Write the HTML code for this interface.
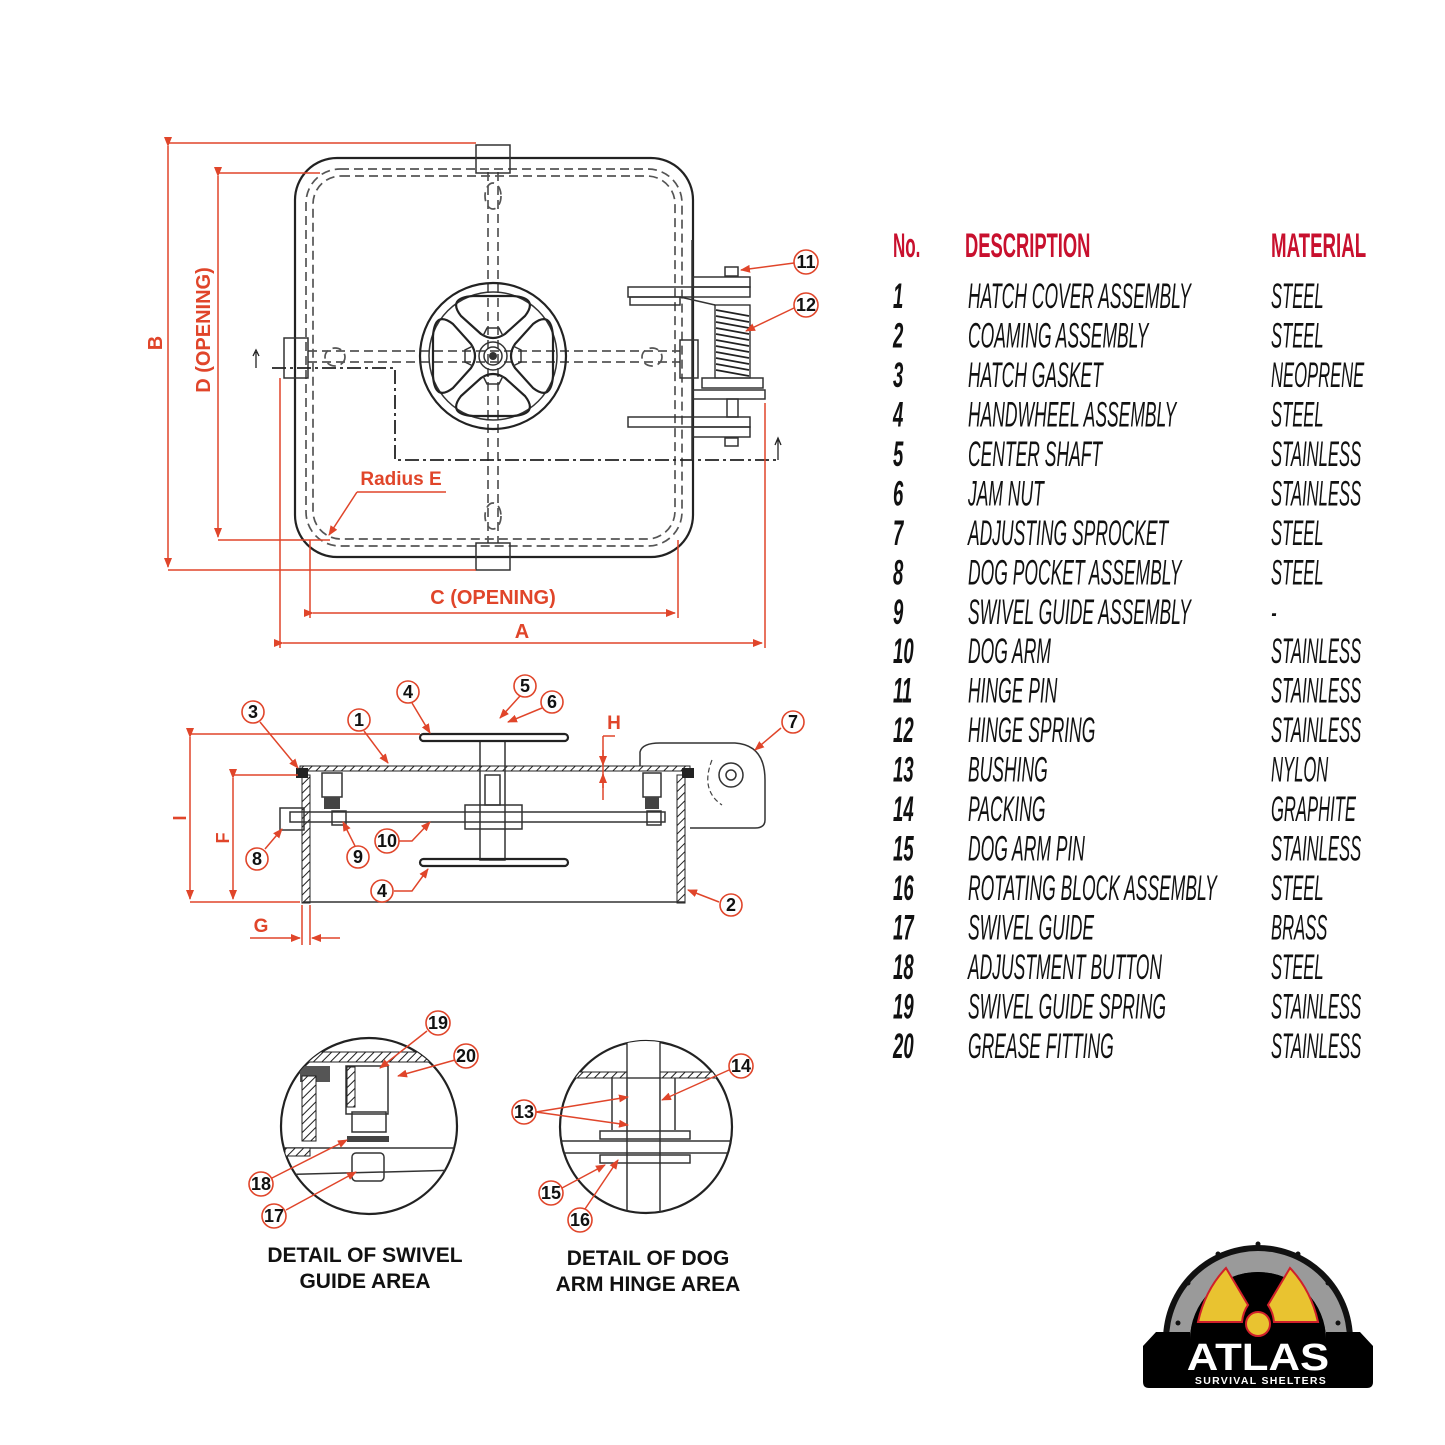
<!DOCTYPE html>
<html><head><meta charset="utf-8"><style>
html,body{margin:0;padding:0;background:#fff}
svg{display:block}
.k{fill:none;stroke:#222;stroke-width:2.2}
.kt{fill:none;stroke:#333;stroke-width:1.5}
.d{fill:none;stroke:#555;stroke-width:1.7;stroke-dasharray:9 5}
.r{fill:none;stroke:#e0452a;stroke-width:1.5}
.rt{font-family:"Liberation Sans",sans-serif;font-weight:bold;fill:#e0452a}
.co{fill:#fff;stroke:#e0452a;stroke-width:1.6}
.cn{font-family:"Liberation Sans",sans-serif;font-weight:bold;font-size:18px;fill:#111;text-anchor:middle}
.tb{font-family:"Liberation Sans",sans-serif;font-size:35px;font-style:italic;fill:#111}
.tn{font-family:"Liberation Sans",sans-serif;font-size:35px;font-style:italic;font-weight:bold;fill:#111}
.th{font-family:"Liberation Sans",sans-serif;font-size:34px;font-weight:bold;fill:#c8102e}
.cap{font-family:"Liberation Sans",sans-serif;font-weight:bold;font-size:21px;fill:#111;text-anchor:middle}
</style></head><body>
<svg width="1445" height="1445" viewBox="0 0 1445 1445" xmlns="http://www.w3.org/2000/svg">
<defs>
<marker id="ar" markerWidth="10" markerHeight="8" refX="9" refY="4" orient="auto" markerUnits="userSpaceOnUse"><path d="M0,0 L10,4 L0,8 Z" fill="#e0452a"/></marker>
<pattern id="hat" width="6" height="6" patternUnits="userSpaceOnUse" patternTransform="rotate(45)"><rect width="6" height="6" fill="#fff"/><line x1="0" y1="0" x2="0" y2="6" stroke="#222" stroke-width="2"/></pattern>
</defs>

<!-- ===== TOP VIEW ===== -->
<rect x="295" y="158" width="398" height="399" rx="42" class="k"/>
<rect x="306" y="169" width="376" height="377" rx="34" class="d"/>
<rect x="313" y="176" width="362" height="363" rx="28" class="d"/>
<line x1="488" y1="172" x2="488" y2="543" class="d"/>
<line x1="498" y1="172" x2="498" y2="543" class="d"/>
<line x1="308" y1="351" x2="680" y2="351" class="d"/>
<line x1="308" y1="362" x2="680" y2="362" class="d"/>
<ellipse cx="493" cy="196" rx="8" ry="13" class="d" stroke-dasharray="5 3"/>
<ellipse cx="493" cy="516" rx="8" ry="13" class="d" stroke-dasharray="5 3"/>
<ellipse cx="335" cy="357" rx="10" ry="9" class="d" stroke-dasharray="5 3"/>
<ellipse cx="652" cy="357" rx="10" ry="9" class="d" stroke-dasharray="5 3"/>
<rect x="476" y="145" width="34" height="28" class="kt"/>
<rect x="476" y="543" width="34" height="27" class="kt"/>
<rect x="284" y="338" width="24" height="40" class="kt"/>
<rect x="680" y="340" width="18" height="38" class="kt"/>
<g transform="translate(493,356)">
<circle r="73" class="k"/>
<circle r="64" class="kt"/>
<circle r="14" class="kt"/>
<circle r="9" class="kt"/>
<circle r="4" fill="#333"/>
<g id="pt"><path d="M-12,-22 L-32,-40 Q-46,-58 -20,-60 L20,-60 Q46,-58 32,-40 L12,-22 Q0,-14 -12,-22 Z" class="k"/><path d="M-10,-20 L-6,-28 L6,-28 L10,-20" class="kt"/></g>
<use href="#pt" transform="rotate(90)"/><use href="#pt" transform="rotate(180)"/><use href="#pt" transform="rotate(270)"/>
</g>
<path d="M272,368 L395,368 L395,460 L778,460" fill="none" stroke="#222" stroke-width="1.8" stroke-dasharray="14 4 3 4"/>
<path d="M256,368 L256,352 M253,356 L256,350 L259,356" fill="none" stroke="#222" stroke-width="1.3"/>
<path d="M778,460 L778,440 M775,445 L778,438 L781,445" fill="none" stroke="#222" stroke-width="1.3"/>
<line x1="692" y1="240" x2="692" y2="460" class="kt"/>
<rect x="725" y="267" width="13" height="9" class="kt"/>
<rect x="693" y="277" width="57" height="10" class="kt"/>
<rect x="628" y="287" width="122" height="10" class="kt"/>
<rect x="630" y="297" width="50" height="8" class="kt"/>
<path d="M680,297 L715,305" class="kt"/>
<rect x="715" y="305" width="35" height="73" fill="#fff" stroke="#222" stroke-width="1.3"/>
<g stroke="#222" stroke-width="1.8">
<line x1="716" y1="310" x2="749" y2="316"/><line x1="716" y1="316" x2="749" y2="322"/><line x1="716" y1="322" x2="749" y2="328"/><line x1="716" y1="328" x2="749" y2="334"/><line x1="716" y1="334" x2="749" y2="340"/><line x1="716" y1="340" x2="749" y2="346"/><line x1="716" y1="346" x2="749" y2="352"/><line x1="716" y1="352" x2="749" y2="358"/><line x1="716" y1="358" x2="749" y2="364"/><line x1="716" y1="364" x2="749" y2="370"/><line x1="716" y1="370" x2="749" y2="376"/>
</g>
<rect x="702" y="378" width="61" height="10" class="kt"/>
<rect x="693" y="390" width="72" height="9" class="kt"/>
<rect x="727" y="399" width="11" height="18" class="kt"/>
<rect x="628" y="417" width="122" height="10" class="kt"/>
<rect x="693" y="427" width="57" height="10" class="kt"/>
<rect x="725" y="438" width="13" height="8" class="kt"/>
<line x1="168" y1="143" x2="476" y2="143" class="r"/>
<line x1="168" y1="570" x2="476" y2="570" class="r"/>
<line x1="168" y1="146" x2="168" y2="567" class="r" marker-start="url(#ar)" marker-end="url(#ar)"/>
<line x1="218" y1="173" x2="320" y2="173" class="r"/>
<line x1="218" y1="540" x2="330" y2="540" class="r"/>
<line x1="218" y1="176" x2="218" y2="537" class="r" marker-start="url(#ar)" marker-end="url(#ar)"/>
<text class="rt" font-size="20" transform="translate(162,343) rotate(-90)" text-anchor="middle">B</text>
<text class="rt" font-size="20" transform="translate(210,330) rotate(-90)" text-anchor="middle">D (OPENING)</text>
<line x1="310" y1="540" x2="310" y2="618" class="r"/>
<line x1="678" y1="540" x2="678" y2="618" class="r"/>
<line x1="313" y1="613" x2="675" y2="613" class="r" marker-start="url(#ar)" marker-end="url(#ar)"/>
<text class="rt" font-size="20" x="493" y="604" text-anchor="middle">C (OPENING)</text>
<line x1="280" y1="378" x2="280" y2="648" class="r"/>
<line x1="765" y1="403" x2="765" y2="648" class="r"/>
<line x1="283" y1="643" x2="762" y2="643" class="r" marker-start="url(#ar)" marker-end="url(#ar)"/>
<text class="rt" font-size="20" x="522" y="638" text-anchor="middle">A</text>
<text class="rt" font-size="19" x="401" y="485" text-anchor="middle">Radius E</text>
<line x1="357" y1="492" x2="446" y2="492" class="r"/>
<line x1="357" y1="492" x2="329" y2="535" class="r" marker-end="url(#ar)"/>
<line x1="794" y1="263" x2="741" y2="270" class="r" marker-end="url(#ar)"/>
<line x1="794" y1="308" x2="746" y2="331" class="r" marker-end="url(#ar)"/>
<circle cx="806" cy="262" r="12" class="co"/><text class="cn" x="806" y="268">11</text>
<circle cx="806" cy="305" r="12" class="co"/><text class="cn" x="806" y="311">12</text>

<!-- ===== SECTION VIEW ===== -->
<rect x="300" y="766" width="390" height="5" fill="url(#hat)" stroke="#222" stroke-width="1"/>
<rect x="302" y="775" width="8" height="128" fill="url(#hat)" stroke="#222" stroke-width="1"/>
<rect x="677" y="775" width="8" height="128" fill="url(#hat)" stroke="#222" stroke-width="1"/>
<line x1="303" y1="902" x2="685" y2="902" class="kt"/>
<rect x="296" y="768" width="12" height="10" fill="#222"/>
<rect x="682" y="768" width="12" height="10" fill="#222"/>
<rect x="280" y="808" width="24" height="22" class="kt"/>
<rect x="322" y="773" width="20" height="24" class="kt"/>
<rect x="324" y="797" width="16" height="12" fill="#444"/>
<rect x="643" y="773" width="18" height="24" class="kt"/>
<rect x="645" y="797" width="14" height="12" fill="#444"/>
<rect x="290" y="812" width="375" height="10" class="kt"/>
<rect x="332" y="811" width="14" height="14" class="kt"/>
<rect x="647" y="811" width="14" height="14" class="kt"/>
<rect x="480" y="741" width="25" height="119" class="kt"/>
<rect x="485" y="775" width="15" height="30" class="kt"/>
<rect x="465" y="805" width="57" height="24" class="kt"/>
<rect x="420" y="734" width="148" height="7" rx="3.5" class="k"/>
<rect x="420" y="859" width="148" height="7" rx="3.5" class="k"/>
<path d="M640,766 L640,752 Q642,743 660,743 L735,743 Q765,745 765,780 L765,820 Q765,828 755,828 L690,828" class="kt"/>
<circle cx="731" cy="775" r="12" class="kt"/><circle cx="731" cy="775" r="5" class="kt"/>
<path d="M712,760 Q700,790 722,805" fill="none" stroke="#444" stroke-width="1.2" stroke-dasharray="5 3"/>
<line x1="190" y1="734" x2="420" y2="734" class="r"/>
<line x1="190" y1="737" x2="190" y2="899" class="r" marker-start="url(#ar)" marker-end="url(#ar)"/>
<line x1="190" y1="902" x2="300" y2="902" class="r"/>
<line x1="233" y1="775" x2="298" y2="775" class="r"/>
<line x1="233" y1="778" x2="233" y2="899" class="r" marker-start="url(#ar)" marker-end="url(#ar)"/>
<text class="rt" font-size="18" transform="translate(186,818) rotate(-90)" text-anchor="middle">I</text>
<text class="rt" font-size="18" transform="translate(229,838) rotate(-90)" text-anchor="middle">F</text>
<line x1="603" y1="736" x2="615" y2="736" class="r"/>
<line x1="603" y1="736" x2="603" y2="800" class="r"/>
<line x1="603" y1="750" x2="603" y2="765" class="r" marker-end="url(#ar)"/>
<line x1="603" y1="788" x2="603" y2="774" class="r" marker-end="url(#ar)"/>
<text class="rt" font-size="19" x="614" y="729" text-anchor="middle">H</text>
<line x1="302" y1="905" x2="302" y2="945" class="r"/>
<line x1="310" y1="905" x2="310" y2="945" class="r"/>
<line x1="250" y1="938" x2="300" y2="938" class="r" marker-end="url(#ar)"/>
<line x1="340" y1="938" x2="312" y2="938" class="r" marker-end="url(#ar)"/>
<text class="rt" font-size="19" x="261" y="932" text-anchor="middle">G</text>
<g>
<line x1="260" y1="722" x2="298" y2="768" class="r" marker-end="url(#ar)"/>
<line x1="364" y1="731" x2="388" y2="763" class="r" marker-end="url(#ar)"/>
<line x1="412" y1="703" x2="430" y2="733" class="r" marker-end="url(#ar)"/>
<line x1="520" y1="696" x2="500" y2="718" class="r" marker-end="url(#ar)"/>
<line x1="542" y1="708" x2="508" y2="722" class="r" marker-end="url(#ar)"/>
<line x1="781" y1="728" x2="755" y2="750" class="r" marker-end="url(#ar)"/>
<line x1="265" y1="849" x2="282" y2="829" class="r" marker-end="url(#ar)"/>
<line x1="355" y1="846" x2="343" y2="822" class="r" marker-end="url(#ar)"/>
<path d="M399,841 L412,841 L430,822" class="r" marker-end="url(#ar)"/>
<path d="M394,891 L412,891 L428,869" class="r" marker-end="url(#ar)"/>
<line x1="719" y1="902" x2="688" y2="890" class="r" marker-end="url(#ar)"/>
<circle cx="253" cy="712" r="11" class="co"/><text class="cn" x="253" y="718">3</text>
<circle cx="359" cy="720" r="11" class="co"/><text class="cn" x="359" y="726">1</text>
<circle cx="408" cy="692" r="11" class="co"/><text class="cn" x="408" y="698">4</text>
<circle cx="525" cy="686" r="11" class="co"/><text class="cn" x="525" y="692">5</text>
<circle cx="552" cy="702" r="11" class="co"/><text class="cn" x="552" y="708">6</text>
<circle cx="793" cy="722" r="11" class="co"/><text class="cn" x="793" y="728">7</text>
<circle cx="257" cy="859" r="11" class="co"/><text class="cn" x="257" y="865">8</text>
<circle cx="358" cy="857" r="11" class="co"/><text class="cn" x="358" y="863">9</text>
<circle cx="387" cy="841" r="12" class="co"/><text class="cn" x="387" y="847">10</text>
<circle cx="382" cy="891" r="11" class="co"/><text class="cn" x="382" y="897">4</text>
<circle cx="731" cy="905" r="11" class="co"/><text class="cn" x="731" y="911">2</text>
</g>

<!-- ===== DETAILS ===== -->
<defs><clipPath id="c1"><circle cx="369" cy="1126" r="88"/></clipPath><clipPath id="c2"><circle cx="646" cy="1127" r="86"/></clipPath></defs>
<circle cx="369" cy="1126" r="88" class="k"/>
<g clip-path="url(#c1)">
<rect x="270" y="1052" width="200" height="10" fill="url(#hat)" stroke="#222"/>
<rect x="300" y="1066" width="30" height="16" fill="#555"/>
<rect x="302" y="1076" width="14" height="65" fill="url(#hat)" stroke="#222"/>
<rect x="346" y="1066" width="42" height="48" class="kt"/>
<rect x="347" y="1067" width="8" height="40" fill="url(#hat)" stroke="#222"/>
<rect x="352" y="1112" width="34" height="20" class="kt"/>
<rect x="347" y="1136" width="42" height="6" fill="#444"/>
<rect x="352" y="1153" width="32" height="28" rx="4" class="kt"/>
<line x1="270" y1="1148" x2="460" y2="1148" class="kt"/>
<line x1="270" y1="1175" x2="460" y2="1170" class="kt"/>
<rect x="285" y="1148" width="25" height="8" fill="url(#hat)" stroke="#222"/>
</g>
<circle cx="646" cy="1127" r="86" class="k"/>
<g clip-path="url(#c2)">
<rect x="550" y="1072" width="200" height="6" fill="url(#hat)" stroke="#222"/>
<rect x="627" y="1030" width="33" height="48" fill="#fff" stroke="#222" stroke-width="1.3"/>
<line x1="627" y1="1078" x2="627" y2="1230" class="kt"/>
<line x1="660" y1="1078" x2="660" y2="1230" class="kt"/>
<line x1="612" y1="1078" x2="612" y2="1130" class="kt"/>
<line x1="675" y1="1078" x2="675" y2="1130" class="kt"/>
<rect x="600" y="1131" width="90" height="8" class="kt"/>
<rect x="600" y="1155" width="90" height="8" class="kt"/>
<line x1="550" y1="1141" x2="750" y2="1141" class="kt"/>
<line x1="550" y1="1153" x2="750" y2="1153" class="kt"/>
</g>
<g>
<line x1="427" y1="1031" x2="380" y2="1068" class="r" marker-end="url(#ar)"/>
<line x1="455" y1="1060" x2="398" y2="1076" class="r" marker-end="url(#ar)"/>
<line x1="272" y1="1178" x2="347" y2="1140" class="r" marker-end="url(#ar)"/>
<line x1="286" y1="1210" x2="356" y2="1172" class="r" marker-end="url(#ar)"/>
<line x1="729" y1="1070" x2="662" y2="1100" class="r" marker-end="url(#ar)"/>
<line x1="536" y1="1112" x2="628" y2="1097" class="r" marker-end="url(#ar)"/>
<line x1="536" y1="1112" x2="628" y2="1125" class="r" marker-end="url(#ar)"/>
<line x1="562" y1="1188" x2="605" y2="1165" class="r" marker-end="url(#ar)"/>
<line x1="585" y1="1209" x2="618" y2="1160" class="r" marker-end="url(#ar)"/>
<circle cx="438" cy="1023" r="12" class="co"/><text class="cn" x="438" y="1029">19</text>
<circle cx="466" cy="1056" r="12" class="co"/><text class="cn" x="466" y="1062">20</text>
<circle cx="261" cy="1184" r="12" class="co"/><text class="cn" x="261" y="1190">18</text>
<circle cx="274" cy="1216" r="12" class="co"/><text class="cn" x="274" y="1222">17</text>
<circle cx="741" cy="1066" r="12" class="co"/><text class="cn" x="741" y="1072">14</text>
<circle cx="524" cy="1112" r="12" class="co"/><text class="cn" x="524" y="1118">13</text>
<circle cx="551" cy="1193" r="12" class="co"/><text class="cn" x="551" y="1199">15</text>
<circle cx="580" cy="1220" r="12" class="co"/><text class="cn" x="580" y="1226">16</text>
</g>
<text class="cap" x="365" y="1262">DETAIL OF SWIVEL</text>
<text class="cap" x="365" y="1288">GUIDE AREA</text>
<text class="cap" x="648" y="1265">DETAIL OF DOG</text>
<text class="cap" x="648" y="1291">ARM HINGE AREA</text>

<!-- ===== TABLE ===== -->
<text class="th" transform="translate(893,257) scale(0.5,1)">No.</text>
<text class="th" transform="translate(965,257) scale(0.54,1)">DESCRIPTION</text>
<text class="th" transform="translate(1271,257) scale(0.55,1)">MATERIAL</text>
<g>
<text class="tn" transform="translate(893,308) scale(0.53,1)">1</text><text class="tb" transform="translate(968,308) scale(0.5,1)">HATCH COVER ASSEMBLY</text><text class="tb" transform="translate(1271,308) scale(0.475,1)">STEEL</text>
<text class="tn" transform="translate(893,347.5) scale(0.53,1)">2</text><text class="tb" transform="translate(968,347.5) scale(0.5,1)">COAMING ASSEMBLY</text><text class="tb" transform="translate(1271,347.5) scale(0.475,1)">STEEL</text>
<text class="tn" transform="translate(893,387) scale(0.53,1)">3</text><text class="tb" transform="translate(968,387) scale(0.5,1)">HATCH GASKET</text><text class="tb" transform="translate(1271,387) scale(0.475,1)">NEOPRENE</text>
<text class="tn" transform="translate(893,426.4) scale(0.53,1)">4</text><text class="tb" transform="translate(968,426.4) scale(0.5,1)">HANDWHEEL ASSEMBLY</text><text class="tb" transform="translate(1271,426.4) scale(0.475,1)">STEEL</text>
<text class="tn" transform="translate(893,465.9) scale(0.53,1)">5</text><text class="tb" transform="translate(968,465.9) scale(0.5,1)">CENTER SHAFT</text><text class="tb" transform="translate(1271,465.9) scale(0.475,1)">STAINLESS</text>
<text class="tn" transform="translate(893,505.3) scale(0.53,1)">6</text><text class="tb" transform="translate(968,505.3) scale(0.5,1)">JAM NUT</text><text class="tb" transform="translate(1271,505.3) scale(0.475,1)">STAINLESS</text>
<text class="tn" transform="translate(893,544.8) scale(0.53,1)">7</text><text class="tb" transform="translate(968,544.8) scale(0.5,1)">ADJUSTING SPROCKET</text><text class="tb" transform="translate(1271,544.8) scale(0.475,1)">STEEL</text>
<text class="tn" transform="translate(893,584.3) scale(0.53,1)">8</text><text class="tb" transform="translate(968,584.3) scale(0.5,1)">DOG POCKET ASSEMBLY</text><text class="tb" transform="translate(1271,584.3) scale(0.475,1)">STEEL</text>
<text class="tn" transform="translate(893,623.8) scale(0.53,1)">9</text><text class="tb" transform="translate(968,623.8) scale(0.5,1)">SWIVEL GUIDE ASSEMBLY</text><text class="tb" transform="translate(1271,623.8) scale(0.475,1)">-</text>
<text class="tn" transform="translate(893,663.2) scale(0.53,1)">10</text><text class="tb" transform="translate(968,663.2) scale(0.5,1)">DOG ARM</text><text class="tb" transform="translate(1271,663.2) scale(0.475,1)">STAINLESS</text>
<text class="tn" transform="translate(893,702.7) scale(0.53,1)">11</text><text class="tb" transform="translate(968,702.7) scale(0.5,1)">HINGE PIN</text><text class="tb" transform="translate(1271,702.7) scale(0.475,1)">STAINLESS</text>
<text class="tn" transform="translate(893,742.2) scale(0.53,1)">12</text><text class="tb" transform="translate(968,742.2) scale(0.5,1)">HINGE SPRING</text><text class="tb" transform="translate(1271,742.2) scale(0.475,1)">STAINLESS</text>
<text class="tn" transform="translate(893,781.6) scale(0.53,1)">13</text><text class="tb" transform="translate(968,781.6) scale(0.5,1)">BUSHING</text><text class="tb" transform="translate(1271,781.6) scale(0.475,1)">NYLON</text>
<text class="tn" transform="translate(893,821.1) scale(0.53,1)">14</text><text class="tb" transform="translate(968,821.1) scale(0.5,1)">PACKING</text><text class="tb" transform="translate(1271,821.1) scale(0.475,1)">GRAPHITE</text>
<text class="tn" transform="translate(893,860.6) scale(0.53,1)">15</text><text class="tb" transform="translate(968,860.6) scale(0.5,1)">DOG ARM PIN</text><text class="tb" transform="translate(1271,860.6) scale(0.475,1)">STAINLESS</text>
<text class="tn" transform="translate(893,900) scale(0.53,1)">16</text><text class="tb" transform="translate(968,900) scale(0.5,1)">ROTATING BLOCK ASSEMBLY</text><text class="tb" transform="translate(1271,900) scale(0.475,1)">STEEL</text>
<text class="tn" transform="translate(893,939.5) scale(0.53,1)">17</text><text class="tb" transform="translate(968,939.5) scale(0.5,1)">SWIVEL GUIDE</text><text class="tb" transform="translate(1271,939.5) scale(0.475,1)">BRASS</text>
<text class="tn" transform="translate(893,979) scale(0.53,1)">18</text><text class="tb" transform="translate(968,979) scale(0.5,1)">ADJUSTMENT BUTTON</text><text class="tb" transform="translate(1271,979) scale(0.475,1)">STEEL</text>
<text class="tn" transform="translate(893,1018.4) scale(0.53,1)">19</text><text class="tb" transform="translate(968,1018.4) scale(0.5,1)">SWIVEL GUIDE SPRING</text><text class="tb" transform="translate(1271,1018.4) scale(0.475,1)">STAINLESS</text>
<text class="tn" transform="translate(893,1057.9) scale(0.53,1)">20</text><text class="tb" transform="translate(968,1057.9) scale(0.5,1)">GREASE FITTING</text><text class="tb" transform="translate(1271,1057.9) scale(0.475,1)">STAINLESS</text>
</g>

<!-- ===== LOGO ===== -->
<g>
<path d="M1163,1340 A95,95 0 0 1 1353,1340 Z" fill="#111"/>
<path d="M1169,1340 A89,89 0 0 1 1347,1340 L1326,1340 A68,68 0 0 0 1190,1340 Z" fill="#9a9a9a"/>
<path d="M1190,1340 A68,68 0 0 1 1326,1340 Z" fill="#000"/>
<g fill="#111"><circle cx="1258" cy="1244" r="2.5"/><circle cx="1218" cy="1254" r="2.5"/><circle cx="1298" cy="1254" r="2.5"/><circle cx="1188" cy="1283" r="2.5"/><circle cx="1328" cy="1283" r="2.5"/><circle cx="1178" cy="1323" r="2.5"/><circle cx="1338" cy="1323" r="2.5"/></g>
<path d="M1198,1322 Q1205,1290 1226,1268 L1248,1305 Q1243,1312 1242,1322 Z" fill="#e9c330" stroke="#d0202a" stroke-width="2"/>
<path d="M1318,1322 Q1311,1290 1290,1268 L1268,1305 Q1273,1312 1274,1322 Z" fill="#e9c330" stroke="#d0202a" stroke-width="2"/>
<circle cx="1258" cy="1324" r="12" fill="#e9c330" stroke="#d0202a" stroke-width="2"/>
<path d="M1143,1346 L1156,1332 L1190,1332 L1190,1340 L1326,1340 L1326,1332 L1360,1332 L1373,1346 L1373,1382 Q1373,1388 1367,1388 L1149,1388 Q1143,1388 1143,1382 Z" fill="#000"/>
<text x="1258" y="1370" text-anchor="middle" font-family="Liberation Sans,sans-serif" font-weight="bold" font-size="38" fill="#fff" transform="translate(1258,0) scale(1.15,1) translate(-1258,0)">ATLAS</text>
<text x="1261" y="1384" text-anchor="middle" font-family="Liberation Sans,sans-serif" font-weight="bold" font-size="10.5" fill="#fff" letter-spacing="1.3">SURVIVAL SHELTERS</text>
</g>
</svg>
</body></html>
